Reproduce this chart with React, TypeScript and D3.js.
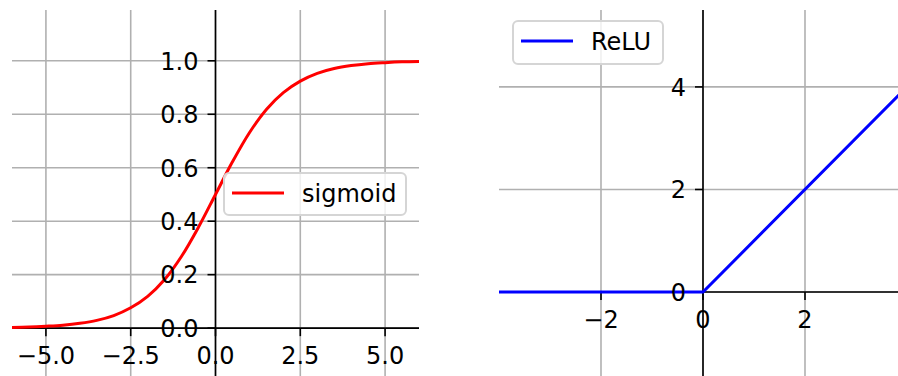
import React from "react";
import * as d3 from "d3";

// ---- data ----
const SIG_X = [-6, -5.5, -5, -4.5, -4, -3.5, -3, -2.5, -2, -1.5, -1, -0.5, 0, 0.5, 1, 1.5, 2, 2.5, 3, 3.5, 4, 4.5, 5, 5.5, 6];
const SIG_Y = [0.0025, 0.004, 0.007, 0.011, 0.018, 0.029, 0.047, 0.076, 0.119, 0.182, 0.269, 0.378, 0.5, 0.622, 0.731, 0.818, 0.881, 0.924, 0.953, 0.971, 0.982, 0.989, 0.993, 0.996, 0.9975];
const RELU_X = [-4, 0, 4];
const RELU_Y = [0, 0, 4];

const LEFT_XTICKS = [-5, -2.5, 0, 2.5, 5];
const LEFT_XLABELS = ["\u22125.0", "\u22122.5", "0.0", "2.5", "5.0"];
const LEFT_YTICKS = [0, 0.2, 0.4, 0.6, 0.8, 1.0];
const LEFT_YLABELS = ["0.0", "0.2", "0.4", "0.6", "0.8", "1.0"];
const RIGHT_XTICKS = [-2, 0, 2];
const RIGHT_XLABELS = ["\u22122", "0", "2"];
const RIGHT_YTICKS = [0, 2, 4];
const RIGHT_YLABELS = ["0", "2", "4"];

const FONT = "DejaVu Sans";
const FS = 24;
const GRID = "#b0b0b0";

type Panel = {
  xs: number[];
  ys: number[];
  color: string;
  label: string;
  xDomain: [number, number];
  xRange: [number, number];
  yDomain: [number, number];
  yRange: [number, number];
  xTicks: number[];
  xLabels: string[];
  yTicks: number[];
  yLabels: string[];
  legend: { x: number; y: number; w: number; h: number };
};

const panels: Panel[] = [
  {
    xs: SIG_X,
    ys: SIG_Y,
    color: "#ff0000",
    label: "sigmoid",
    xDomain: [-6, 6],
    xRange: [12, 419],
    yDomain: [-0.2, 1.19],
    yRange: [381.6, 10],
    xTicks: LEFT_XTICKS,
    xLabels: LEFT_XLABELS,
    yTicks: LEFT_YTICKS,
    yLabels: LEFT_YLABELS,
    legend: { x: 224, y: 173, w: 182, h: 42 },
  },
  {
    xs: RELU_X,
    ys: RELU_Y,
    color: "#0000ff",
    label: "ReLU",
    xDomain: [-4, 4],
    xRange: [499, 907],
    yDomain: [-2, 5.5],
    yRange: [394.6, 10],
    xTicks: RIGHT_XTICKS,
    xLabels: RIGHT_XLABELS,
    yTicks: RIGHT_YTICKS,
    yLabels: RIGHT_YLABELS,
    legend: { x: 513, y: 21, w: 150, h: 43 },
  },
];

function PanelView({ p, idx }: { p: Panel; idx: number }) {
  const x = d3.scaleLinear().domain(p.xDomain).range(p.xRange);
  const y = d3.scaleLinear().domain(p.yDomain).range(p.yRange);
  const pts: [number, number][] = p.xs.map((v, i) => [v, p.ys[i]]);
  const line = d3
    .line<[number, number]>()
    .x((d) => x(d[0]))
    .y((d) => y(d[1]))
    .curve(idx === 0 ? d3.curveCatmullRom.alpha(0.5) : d3.curveLinear);
  const x0 = x(0);
  const y0 = y(0);
  const [xl, xr] = p.xRange;
  const [yb, yt] = p.yRange;
  const L = p.legend;
  const clipId = `clip${idx}`;
  return (
    <g>
      <defs>
        <clipPath id={clipId}>
          <rect x={xl} y={yt} width={xr - xl} height={yb - yt} />
        </clipPath>
      </defs>
      {/* grid */}
      {p.xTicks.map((t) => (
        <line key={"gx" + t} x1={x(t)} x2={x(t)} y1={yt} y2={yb} stroke={GRID} strokeWidth={1.6} />
      ))}
      {p.yTicks.map((t) => (
        <line key={"gy" + t} x1={xl} x2={xr} y1={y(t)} y2={y(t)} stroke={GRID} strokeWidth={1.6} />
      ))}
      {/* spines */}
      <line x1={x0} x2={x0} y1={yt} y2={yb} stroke="#000" strokeWidth={1.6} />
      <line x1={xl} x2={xr} y1={y0} y2={y0} stroke="#000" strokeWidth={1.6} />
      {/* ticks */}
      {p.xTicks.map((t) => (
        <line key={"tx" + t} x1={x(t)} x2={x(t)} y1={y0} y2={y0 + 8} stroke="#000" strokeWidth={1.6} />
      ))}
      {p.yTicks.map((t) => (
        <line key={"ty" + t} x1={x0 - 8} x2={x0} y1={y(t)} y2={y(t)} stroke="#000" strokeWidth={1.6} />
      ))}
      {/* curve */}
      <path d={line(pts) || ""} fill="none" stroke={p.color} strokeWidth={3} clipPath={`url(#${clipId})`} />
      {/* tick labels */}
      {p.xTicks.map((t, i) => (
        <text key={"lx" + t} x={x(t)} y={y0 + 35.5} textAnchor="middle" fontFamily={FONT} fontSize={FS} fill="#000">
          {p.xLabels[i]}
        </text>
      ))}
      {p.yTicks.map((t, i) => (
        <text key={"ly" + t} x={x0 - 17} y={y(t) + 8.8} textAnchor="end" fontFamily={FONT} fontSize={FS} fill="#000">
          {p.yLabels[i]}
        </text>
      ))}
      {/* legend */}
      <rect x={L.x} y={L.y} width={L.w} height={L.h} rx={5} ry={5} fill="#fff" fillOpacity={0.8} stroke="#d5d5d5" strokeWidth={2} />
      <line x1={L.x + 8} x2={L.x + 60} y1={L.y + 20} y2={L.y + 20} stroke={p.color} strokeWidth={3} />
      <text x={L.x + 78} y={L.y + 28.5} fontFamily={FONT} fontSize={FS} fill="#000">
        {p.label}
      </text>
    </g>
  );
}

export default function App() {
  return (
    <svg
      width={898}
      height={376}
      style={{ position: "absolute", left: 0, top: 0, background: "#fff" }}
      xmlns="http://www.w3.org/2000/svg"
    >
      <rect x={0} y={0} width={898} height={376} fill="#fff" />
      {panels.map((p, i) => (
        <PanelView key={i} p={p} idx={i} />
      ))}
    </svg>
  );
}
